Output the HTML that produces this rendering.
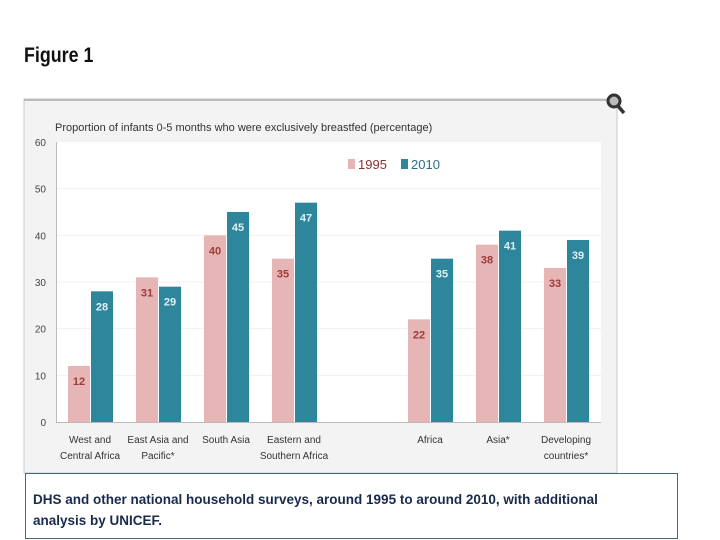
<!DOCTYPE html>
<html><head><meta charset="utf-8"><style>
body{margin:0;width:720px;height:540px;background:#fff;overflow:hidden;position:relative;font-family:"Liberation Sans",sans-serif}
</style></head><body>
<div style="position:absolute;left:24px;top:44px;font:bold 21px 'Liberation Sans Narrow','Liberation Sans',sans-serif;color:#111;transform:scaleX(0.85);transform-origin:left">Figure 1</div>
<svg id="c" width="720" height="540" style="position:absolute;left:0;top:0">
<rect x="24" y="99" width="593" height="374" fill="#f3f3f3" stroke="#c8c8c8" stroke-width="1"/>
<line x1="24" y1="100" x2="617" y2="100" stroke="#bbb" stroke-width="2"/>
<rect x="57" y="142" width="544" height="280" fill="#fff"/>
<line x1="56.5" y1="142" x2="56.5" y2="422" stroke="#bbb"/>
<line x1="56" y1="422.5" x2="601" y2="422.5" stroke="#bbb"/>
<text x="55" y="131" font-size="11" fill="#333">Proportion of infants 0-5 months who were exclusively breastfed (percentage)</text>
<g><circle cx="614" cy="101" r="6" fill="#bbb" stroke="#333" stroke-width="3"/><line x1="618" y1="106" x2="624" y2="113" stroke="#333" stroke-width="3.5"/></g>
<rect x="348" y="159" width="7" height="10" fill="#e6b5b5"/>
<text x="358" y="169" font-size="13" fill="#8a3030" font-family="Liberation Sans Narrow,Liberation Sans,sans-serif">1995</text>
<rect x="401" y="159" width="7" height="10" fill="#2e869c"/>
<text x="411" y="169" font-size="13" fill="#2a6f84" font-family="Liberation Sans Narrow,Liberation Sans,sans-serif">2010</text>
<g id="g"></g>
</svg>
<div style="position:absolute;left:25px;top:473px;width:653px;height:66px;border:1px solid #4a6478;font:bold 13.5px 'Liberation Sans',sans-serif;color:#1a2a4a;box-sizing:border-box;padding:15px 0 0 7px;line-height:21px;white-space:nowrap">DHS and other national household surveys, around 1995 to around 2010, with additional<br>analysis by UNICEF.</div>
<script>
const categories=[["West and","Central Africa"],["East Asia and","Pacific*"],["South Asia"],["Eastern and","Southern Africa"],["Africa"],["Asia*"],["Developing","countries*"]];
const slots=[0,1,2,3,5,6,7];
const v1995=[12,31,40,35,22,38,33];
const v2010=[28,29,45,47,35,41,39];
const yTicks=[0,10,20,30,40,50,60];
const NS="http://www.w3.org/2000/svg";
const g=document.getElementById('g');
const y=v=>422-v*280/60;
const x=i=>68+68*slots[i];
function mk(t,a){const e=document.createElementNS(NS,t);for(const k in a)e.setAttribute(k,a[k]);g.appendChild(e);return e;}
yTicks.forEach(t=>{
 if(t>0&&t<60){const l=mk('line',{x1:57,x2:601,y1:y(t),y2:y(t),stroke:'#f0f0f0'});
 
 }
 const tx=mk('text',{x:46,y:y(t)+4,'font-size':10,fill:'#444','text-anchor':'end'});tx.textContent=t;
 
 
});
categories.forEach((c,i)=>{
 const x0=x(i);
 const r1=mk('rect',{x:x0,y:y(v1995[i]),width:22,height:422-y(v1995[i]),fill:'#e6b5b5'});
 
 
 const r2=mk('rect',{x:x0+23,y:y(v2010[i]),width:22,height:422-y(v2010[i]),fill:'#2e869c'});
 
 
 const l1=mk('text',{x:x0+11,y:y(v1995[i])+19,'font-size':11,'font-weight':'bold',fill:'#a03a3a','text-anchor':'middle'});l1.textContent=v1995[i];
 
 
 const l2=mk('text',{x:x0+34,y:y(v2010[i])+19,'font-size':11,'font-weight':'bold',fill:'#dff1f5','text-anchor':'middle'});l2.textContent=v2010[i];
 
 
 c.forEach((s,k)=>{const t=mk('text',{x:x0+22,y:443+k*16,'font-size':10,fill:'#333','text-anchor':'middle'});t.textContent=s;
 
 });
});
</script>
</body></html>
